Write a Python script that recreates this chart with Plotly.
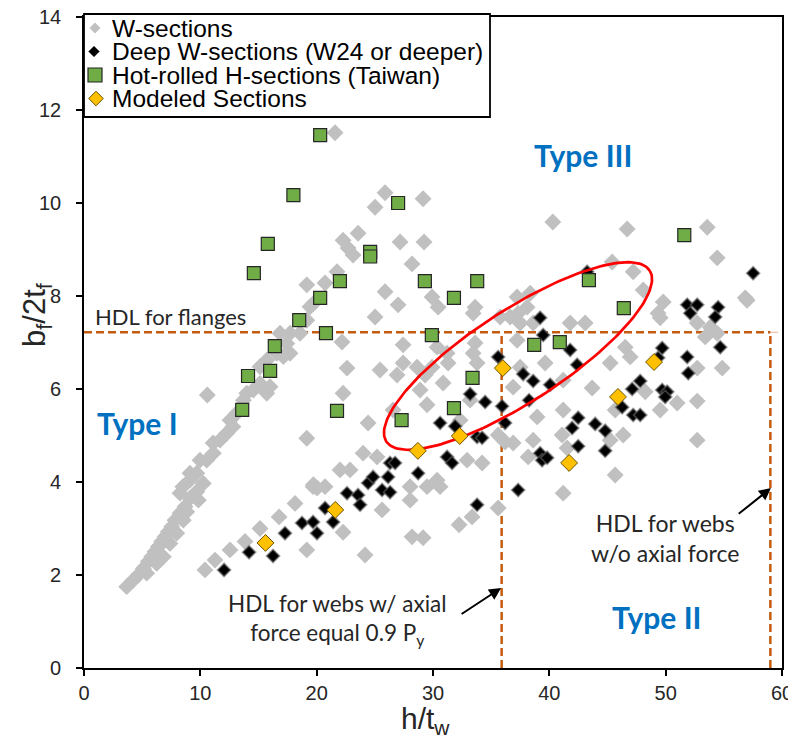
import numpy as np
import plotly.graph_objects as go

# ---------------- data ----------------
w_x = [3.67,4.24,4.67,5.10,5.53,5.82,6.10,6.39,6.68,6.96,7.25,7.54,7.82,8.25,8.68,9.11,9.69,10.26,5.39,6.25,6.82,7.39,7.97,8.54,8.83,9.83,
       8.25,9.11,9.69,10.55,11.12,11.69,12.27,12.55,13.13,13.70,13.99,14.56,15.13,15.71,15.99,15.13,15.71,16.57,17.14,17.71,17.43,16.85,17.71,18.57,19.15,19.72,10.6,19.15,19.72,11.1,12.8,9.97,9.11,8.5,
       19.15,19.43,
       10.4,11.26,12.55,13.84,15.13,16.77,18.14,19.69,19.15,
       21.58,25.88,25.02,29.15,23.56,22.27,22.70,23.13,27.17,29.23,28.20,21.75,20.72,25.88,27.0,25.02,29.92,30.44,33.62,37.23,38.09,37.32,35.77,40.3,
       46.69,53.57,54.43,45.40,47.21,48.07,49.79,56.84,49.35,38.35,
       36.63,37.49,22.18,22.61,25.45,26.91,27.43,27.43,28.63,28.89,29.32,29.92,30.87,31.30,31.21,30.35,29.49,22.27,24.42,26.57,33.45,33.79,33.62,36.89,37.49,35.6,36.2,36.89,32.33,33.19,23.99,25.19,34.22,38.18,38.95,33.45,22.01,22.87,20.72,28.03,30.35,32.93,38.61,37.23,
       20.03,29.49,30.61,28.03,25.62,22.27,24.16,28.20,29.15,32.24,33.36,35.60,
       38.61,41.79,43.08,49.53,52.71,53.83,53.40,54.43,57.0,46.52,46.95,45.23,39.64,41.19,43.68,48.24,50.99,52.71,54.86,52.71,49.53,41.19,41.10,45.66,46.35,52.71,41.53,45.66,41.19,45.23]
w_y = [1.75,1.89,2.0,2.14,2.29,2.39,2.50,2.61,2.72,2.82,2.93,3.04,3.18,3.33,3.47,3.65,3.79,3.97,2.04,2.25,2.39,2.68,2.90,3.18,3.36,3.61,
       3.76,4.04,4.19,4.47,4.62,4.90,5.05,5.33,5.48,5.76,5.91,5.98,6.12,5.91,6.05,6.48,6.62,6.77,6.70,6.77,6.98,7.20,7.20,7.20,7.48,7.84,5.87,4.94,3.94,4.84,5.19,4.47,4.19,3.9,
       8.24,7.77,
       2.11,2.32,2.54,2.72,3.0,3.25,3.54,3.90,2.54,
       11.51,10.22,9.91,10.09,9.35,9.20,9.03,8.88,9.16,9.16,8.69,8.52,8.28,8.09,7.81,7.55,7.98,7.76,7.76,7.98,7.76,7.63,7.55,9.59,
       9.44,9.48,8.82,8.73,8.52,8.13,7.87,7.96,7.63,8.06,
       7.55,7.42,7.01,6.45,6.41,6.30,6.56,6.95,6.47,5.98,6.30,6.47,6.13,6.56,6.77,6.90,5.66,5.91,5.27,5.55,6.77,6.56,6.99,6.04,6.47,5.01,4.86,4.84,5.33,5.76,4.62,4.54,4.41,4.54,5.40,7.63,4.26,4.26,3.90,3.90,4.04,4.47,4.90,7.05,
       3.87,3.90,3.90,3.61,3.40,2.92,2.43,2.82,2.80,3.08,3.25,3.44,
       7.42,7.42,7.42,7.53,7.42,7.33,7.12,7.20,7.91,6.90,6.69,6.56,6.56,6.19,6.02,5.94,5.70,5.74,6.45,6.45,5.55,5.55,5.01,5.55,5.01,4.90,4.73,4.15,3.76,4.90]

deep_x = [12.04,14.19,16.25,17.28,18.74,19.69,20.03,22.61,23.56,23.73,20.72,21.41,25.62,26.31,24.42,33.79,37.32,
          26.31,26.74,26.14,24.85,28.72,31.21,31.64,30.61,31.90,33.19,34.48,35.94,36.20,33.79,34.22,35.60,37.75,38.61,39.21,38.26,39.21,39.38,
          51.85,52.71,54.51,54.26,52.11,39.47,41.79,42.39,40.07,49.70,49.35,51.85,51.94,54.69,47.81,47.12,49.70,50.13,49.96,46.26,47.21,47.81,
          42.48,41.96,43.94,44.80,42.48,44.80,39.81,43.25,57.52]
deep_y = [2.11,2.49,2.41,2.90,3.12,3.14,2.90,3.76,3.72,3.51,3.44,3.14,3.83,3.78,3.98,3.51,3.83,
          4.41,4.41,4.11,4.11,4.19,4.54,4.41,5.27,5.20,5.89,5.72,5.63,5.27,4.97,4.95,6.69,6.32,6.17,7.53,5.76,4.62,4.47,
          7.81,7.81,7.76,7.55,7.63,7.16,6.84,6.52,6.09,6.88,6.67,6.69,6.34,6.90,6.17,6.00,5.98,5.94,5.83,5.61,5.44,5.44,
          5.38,5.16,5.25,5.10,4.77,4.67,4.52,8.52,8.49]

tw_x = [20.3,18.0,27.0,24.6,24.6,15.8,14.6,20.3,22.0,29.3,33.8,18.5,20.8,16.4,29.9,31.8,51.6,43.4,46.4,40.9,38.7,14.1,16.0,13.6,33.4,31.8,21.75,27.3]
tw_y = [11.46,10.17,10.0,8.95,8.85,9.12,8.49,7.96,8.32,8.32,8.32,7.48,7.20,6.92,7.16,7.96,9.31,8.34,7.74,7.01,6.95,6.28,6.39,5.55,6.24,5.59,5.53,5.33]

mod_x = [36.0,32.3,28.7,15.6,21.6,49.0,45.9,41.7]
mod_y = [6.45,4.99,4.67,2.69,3.40,6.58,5.83,4.41]

series_names = ["W-sections", "Deep W-sections (W24 or deeper)",
                "Hot-rolled H-sections (Taiwan)", "Modeled Sections"]

x_ticks = [0, 10, 20, 30, 40, 50, 60]
y_ticks = [0, 2, 4, 6, 8, 10, 12, 14]

hdl_flange = 7.22
hdl_web_axial = 35.9
hdl_web = 59.0

# ---------------- geometry (screen pixels; page has an 8px body margin) ----------------
OFF = 8
FW, FH = 788, 733
SL, SR, ST, SB = 84, 782, 17, 668          # plot area on screen
PW, PH = SR - SL, SB - ST
ML, MT = SL - OFF, ST - OFF
MR, MB = FW - (SR - OFF), FH - (SB - OFF)


def px(xs):   # screen x -> paper x
    return (xs - SL) / PW


def py(ys):   # screen y -> paper y
    return (SB - ys) / PH


GRAY, BLACK, GREEN, ORANGE = "#C0C0C0", "#000000", "#70AD47", "#FFC000"

fig = go.Figure()

fig.add_trace(go.Scatter(x=w_x, y=w_y, mode="markers", name=series_names[0], showlegend=False,
                         marker=dict(symbol="diamond", size=13, color=GRAY, line=dict(width=0))))
fig.add_trace(go.Scatter(x=deep_x, y=deep_y, mode="markers", name=series_names[1], showlegend=False,
                         marker=dict(symbol="diamond", size=10, color=BLACK,
                                     line=dict(width=1.8, color="rgba(100,100,100,0.6)"))))
fig.add_trace(go.Scatter(x=tw_x, y=tw_y, mode="markers", name=series_names[2], showlegend=False,
                         marker=dict(symbol="square", size=13, color=GREEN,
                                     line=dict(width=1.2, color="#262626"))))

# ellipse (screen-pixel geometry converted to data units)
pxx = PW / 60.0
pxy = PH / 14.0
cx, cy = 518 - SL, SB - 356
a_px, b_px, ang = 157.0, 46.0, np.deg2rad(33)
t = np.linspace(0, 2 * np.pi, 200)
ex = cx + a_px * np.cos(t) * np.cos(ang) - b_px * np.sin(t) * np.sin(ang)
ey = cy + a_px * np.cos(t) * np.sin(ang) + b_px * np.sin(t) * np.cos(ang)
fig.add_trace(go.Scatter(x=ex / pxx, y=ey / pxy, mode="lines", showlegend=False,
                         line=dict(color="#FF0000", width=2.7), hoverinfo="skip"))

fig.add_trace(go.Scatter(x=mod_x, y=mod_y, mode="markers", name=series_names[3], showlegend=False,
                         marker=dict(symbol="diamond", size=13, color=ORANGE,
                                     line=dict(width=1, color="#6B5200"))))

dash_col = "#C55A11"
dash_pat = "8px,4px"
fig.add_shape(type="line", x0=0, x1=hdl_web, y0=hdl_flange, y1=hdl_flange,
              line=dict(color=dash_col, width=2.5, dash=dash_pat), layer="below")
fig.add_shape(type="line", x0=hdl_web, x1=60, y0=hdl_flange, y1=hdl_flange,
              line=dict(color="rgba(197,90,17,0.45)", width=1, dash=dash_pat), layer="below")
fig.add_shape(type="line", x0=hdl_web_axial, x1=hdl_web_axial, y0=0, y1=hdl_flange,
              line=dict(color=dash_col, width=2.5, dash=dash_pat), layer="below")
fig.add_shape(type="line", x0=hdl_web, x1=hdl_web, y0=0, y1=hdl_flange,
              line=dict(color=dash_col, width=2.5, dash=dash_pat), layer="below")

txt = "#262626"
blue = "#0070C0"
fig.add_annotation(x=0.8, y=7.55, text="HDL for flanges", showarrow=False, xanchor="left",
                   font=dict(family="Lato", size=22, color=txt))
fig.add_annotation(x=4.6, y=5.27, text="<b>Type I</b>", showarrow=False,
                   font=dict(family="Lato", size=30, color=blue))
fig.add_annotation(x=42.9, y=11.03, text="<b>Type III</b>", showarrow=False,
                   font=dict(family="Lato", size=30, color=blue))
fig.add_annotation(x=49.2, y=1.10, text="<b>Type II</b>", showarrow=False,
                   font=dict(family="Lato", size=30, color=blue))
fig.add_annotation(x=21.75, y=1.05, text="HDL for webs w/ axial<br>force equal 0.9 P<sub>y</sub>",
                   showarrow=False, font=dict(family="Lato", size=22.5, color=txt))
fig.add_annotation(x=49.96, y=2.80, text="HDL for webs<br>w/o axial force",
                   showarrow=False, font=dict(family="Lato", size=23, color=txt))
fig.add_annotation(x=35.85, y=1.72, ax=32.33, ay=1.14, xref="x", yref="y", axref="x", ayref="y",
                   text="", showarrow=True, arrowhead=2, arrowsize=1.2, arrowwidth=2, arrowcolor="#000000")
fig.add_annotation(x=59.05, y=3.87, ax=56.15, ay=3.29, xref="x", yref="y", axref="x", ayref="y",
                   text="", showarrow=True, arrowhead=2, arrowsize=1.2, arrowwidth=2, arrowcolor="#000000")

# axis titles
fig.add_annotation(xref="paper", yref="paper", x=px(37), y=py(315), textangle=-90, showarrow=False,
                   xanchor="center", yanchor="middle",
                   text="b<sub>f</sub>/2t<sub>f</sub>", font=dict(family="Liberation Sans", size=31, color=txt))
fig.add_annotation(xref="paper", yref="paper", x=px(425), y=py(720), showarrow=False,
                   xanchor="center", yanchor="middle",
                   text="h/t<sub>w</sub>", font=dict(family="Liberation Sans", size=30, color=txt))

# ---------------- legend (drawn box) ----------------
fig.add_shape(type="rect", xref="paper", yref="paper", x0=px(84), x1=px(490), y0=py(117), y1=py(14),
              line=dict(color="#000000", width=1.8), fillcolor="white", layer="above")
rows = [28, 51.5, 75, 98.5]
sx = 95


def diamond_path(cxp, cyp, r):
    return (f"M {px(cxp - r)},{py(cyp)} L {px(cxp)},{py(cyp - r)} "
            f"L {px(cxp + r)},{py(cyp)} L {px(cxp)},{py(cyp + r)} Z")


fig.add_shape(type="path", xref="paper", yref="paper", path=diamond_path(sx, rows[0], 5.5),
              fillcolor=GRAY, line=dict(width=0), layer="above")
fig.add_shape(type="path", xref="paper", yref="paper", path=diamond_path(sx - 1, rows[1], 5.5),
              fillcolor=BLACK, line=dict(width=1, color="rgba(110,110,110,0.7)"), layer="above")
fig.add_shape(type="rect", xref="paper", yref="paper", x0=px(sx - 7), x1=px(sx + 7),
              y0=py(rows[2] + 7), y1=py(rows[2] - 7),
              fillcolor=GREEN, line=dict(width=1.2, color="#262626"), layer="above")
fig.add_shape(type="path", xref="paper", yref="paper", path=diamond_path(sx + 1, rows[3], 7.3),
              fillcolor=ORANGE, line=dict(width=1, color="#6B5200"), layer="above")
for name, r in zip(series_names, rows):
    fig.add_annotation(xref="paper", yref="paper", x=px(110), y=py(r), text=name, showarrow=False,
                       xanchor="left", yanchor="middle",
                       font=dict(family="Liberation Sans", size=24.5, color="#000000"))

axis_common = dict(showgrid=False, zeroline=False, showline=True, linecolor="#000000", linewidth=1.5,
                   mirror=True, ticks="outside", ticklen=6, tickwidth=1.5, tickcolor="#000000",
                   automargin=False, ticklabeloverflow="allow",
                   tickfont=dict(family="Liberation Sans", size=20, color=txt))
fig.update_xaxes(range=[0, 60], tickvals=x_ticks, ticktext=[str(v) for v in x_ticks], **axis_common)
fig.update_yaxes(range=[0, 14], tickvals=y_ticks,
                 ticktext=[str(v) + "\u00a0\u00a0" for v in y_ticks], **axis_common)

fig.update_layout(width=FW, height=FH, margin=dict(l=ML, r=MR, t=MT, b=MB),
                  plot_bgcolor="white", paper_bgcolor="white", showlegend=False)

fig.write_html("out.html")
